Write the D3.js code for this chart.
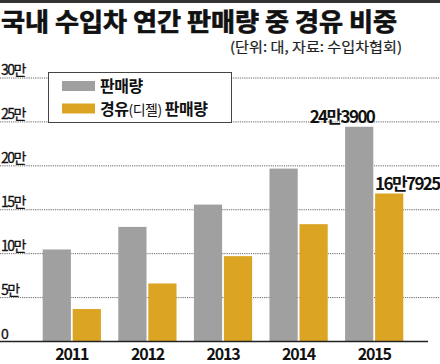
<!DOCTYPE html>
<html>
<head>
<meta charset="utf-8">
<script src="https://cdn.jsdelivr.net/npm/d3@7"></script>
<style>
  body { margin: 0; background: #fff; }
  svg { display: block; font-family: "Noto Sans CJK KR", "Noto Sans", sans-serif; }
</style>
</head>
<body>
<div id="chart"></div>
<script>
// data
var years = ["2011", "2012", "2013", "2014", "2015"];
var totalSales = [104200, 129900, 155300, 196300, 243900];
var dieselSales = [36400, 65500, 96600, 133000, 167925];
var seriesNames = ["판매량", "경유(디젤) 판매량"];
var yTicks = [0, 50000, 100000, 150000, 200000, 250000, 300000];

var width = 440,
    height = 364;

var colors = {total: "#a0a0a0", diesel: "#dba423"};

var svg = d3.select("#chart")
  .append("svg")
    .attr("width", width)
    .attr("height", height);

// top rule
svg.append("rect")
    .attr("x", 0).attr("y", 0)
    .attr("width", width).attr("height", 3)
    .attr("fill", "#333");

svg.append("text")
    .attr("x", 1)
    .attr("y", 31)
    .attr("font-size", 25)
    .attr("font-weight", 700)
    .attr("fill", "#111")
    .attr("stroke", "#111")
    .attr("stroke-width", 0.7)
    .attr("textLength", 396)
    .attr("lengthAdjust", "spacingAndGlyphs")
    .text("국내 수입차 연간 판매량 중 경유 비중");

svg.append("text")
    .attr("x", 230)
    .attr("y", 52)
    .attr("font-size", 14)
    .attr("fill", "#222")
    .attr("stroke", "#222")
    .attr("stroke-width", 0.2)
    .attr("textLength", 172)
    .attr("lengthAdjust", "spacingAndGlyphs")
    .text("(단위: 대, 자료: 수입차협회)");

var yScale = d3.scaleLinear()
    .domain([0, 300000])
    .range([341, 77.5]);

var x0 = d3.scaleBand()
    .domain(years)
    .range([34, 412])
    .paddingInner(0.23)
    .paddingOuter(0.115);

var x1 = d3.scaleBand()
    .domain(["total", "diesel"])
    .range([0, x0.bandwidth()])
    .paddingInner(0.06);

// grid + y labels
var yAxis = svg.append("g")
    .call(d3.axisRight(yScale)
      .tickValues(yTicks)
      .tickSize(width)
      .tickFormat(function(d) { return d === 0 ? "0" : (d / 10000) + "만"; }));
yAxis.select(".domain").remove();
yAxis.selectAll(".tick line")
    .attr("stroke", "#666")
    .attr("stroke-dasharray", "1.2,1")
    .attr("stroke-width", 1);
yAxis.selectAll(".tick")
    .filter(function(d) { return d === 0; })
    .select("line").remove();
yAxis.selectAll(".tick text")
    .attr("x", 1)
    .attr("dy", -3)
    .attr("text-anchor", "start")
    .attr("font-size", 14)
    .attr("letter-spacing", -1.5)
    .attr("fill", "#111")
    .attr("stroke", "#111")
    .attr("stroke-width", 0.3)
    .style("font-family", "\"Noto Sans CJK KR\", sans-serif");

// legend
var legend = svg.append("g").attr("transform", "translate(48,72)");
legend.append("rect")
    .attr("x", 0.5).attr("y", 0.5)
    .attr("width", 183).attr("height", 50)
    .attr("fill", "#fff")
    .attr("stroke", "#444");
legend.selectAll("rect.sw")
  .data([colors.total, colors.diesel])
  .enter().append("rect")
    .attr("class", "sw")
    .attr("x", 14)
    .attr("y", function(d, i) { return 9 + i * 22.5; })
    .attr("width", 33).attr("height", 10)
    .attr("fill", function(d) { return d; });
var lt = legend.selectAll("text")
  .data(seriesNames)
  .enter().append("text")
    .attr("x", 52)
    .attr("y", function(d, i) { return 20 + i * 22.5; })
    .attr("font-size", 16)
    .attr("font-weight", 700)
    .attr("fill", "#111")
    .attr("letter-spacing", -0.5);
lt.filter(function(d, i) { return i === 0; }).text(function(d) { return d; });
var dl = lt.filter(function(d, i) { return i === 1; });
dl.append("tspan").text("경유");
dl.append("tspan").attr("font-size", 14).attr("font-weight", 400).text("(디젤)");
dl.append("tspan").text(" 판매량");

// bars
var groups = svg.selectAll("g.year")
  .data(years)
  .enter().append("g")
    .attr("class", "year")
    .attr("transform", function(d) { return "translate(" + x0(d) + ",0)"; });

groups.append("rect")
    .attr("x", x1("total"))
    .attr("width", x1.bandwidth())
    .attr("y", function(d, i) { return yScale(totalSales[i]); })
    .attr("height", function(d, i) { return yScale(0) - yScale(totalSales[i]); })
    .attr("fill", colors.total);

groups.append("rect")
    .attr("x", x1("diesel"))
    .attr("width", x1.bandwidth())
    .attr("y", function(d, i) { return yScale(dieselSales[i]); })
    .attr("height", function(d, i) { return yScale(0) - yScale(dieselSales[i]); })
    .attr("fill", colors.diesel);

// baseline
svg.append("line")
    .attr("x1", 0).attr("x2", 428)
    .attr("y1", yScale(0) + 0.5).attr("y2", yScale(0) + 0.5)
    .attr("stroke", "#222")
    .attr("stroke-width", 1.5);

// x axis labels
var xAxis = svg.append("g")
    .attr("transform", "translate(0," + yScale(0) + ")")
    .call(d3.axisBottom(x0).tickSize(0).tickPadding(8));
xAxis.select(".domain").remove();
xAxis.selectAll("text")
    .attr("font-size", 16)
    .attr("font-weight", 700)
    .attr("letter-spacing", -1.2)
    .attr("fill", "#111")
    .style("font-family", "\"Noto Sans CJK KR\", sans-serif");

// value labels for 2015
var last = years.length - 1;
svg.append("text")
    .attr("x", x0(years[last]) + x1("total") + x1.bandwidth() + 1)
    .attr("y", yScale(totalSales[last]) - 4)
    .attr("text-anchor", "end")
    .attr("font-size", 17)
    .attr("font-weight", 700)
    .attr("letter-spacing", -1.6)
    .attr("fill", "#111")
    .text("24만3900");
svg.append("text")
    .attr("x", x0(years[last]) + x1("diesel"))
    .attr("y", yScale(dieselSales[last]) - 4)
    .attr("font-size", 17)
    .attr("font-weight", 700)
    .attr("letter-spacing", -1.6)
    .attr("fill", "#111")
    .text("16만7925");
</script>
</body>
</html>
